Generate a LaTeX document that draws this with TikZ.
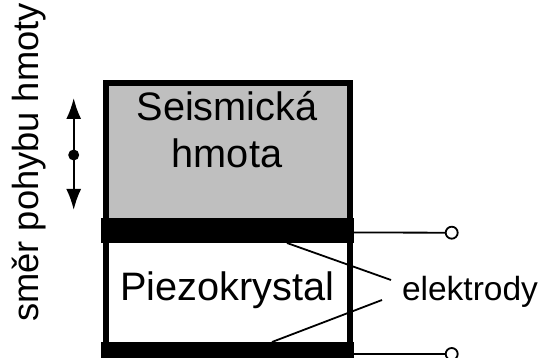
\documentclass[tikz,border=0pt]{standalone}
\usepackage{fontspec}
\usetikzlibrary{arrows.meta}
\setmainfont{Liberation Sans}
\tikzset{
  px/.style={x=1pt,y=-1pt},
  lbl/.style={inner sep=0pt,font=\fontsize{39.7}{47}\selectfont,align=center},
  wire/.style={draw=black,line width=1.8pt},
  term/.style={circle,draw=black,line width=1.8pt,fill=white,minimum size=12pt,inner sep=0pt},
  elec/.style={fill=black,draw=none,minimum width=253pt,minimum height=25pt,inner sep=0pt}
}
\begin{document}
\begin{tikzpicture}[px]
\useasboundingbox (0,0) rectangle (541,358);
\fill[white] (0,0) rectangle (541,358);
\fill[black!25] (106,83) rectangle (350,220);
\draw[line width=6pt] (106,358) -- (106,83) -- (350,83) -- (350,358);
\node[elec] (top) at (227.5,230.5) {};
\node[elec,minimum height=16pt] (bot) at (227.5,350) {};
\coordinate (w1) at (354,232.5);
\coordinate (w2) at (354,354);
\node[term] (t1) at (451.7,232.7) {};
\node[term] (t2) at (451.7,354) {};
\draw[wire] (w1) -- (t1);
\draw[wire] (w2) -- (t2);
\node[lbl] (s) at (227,130) {Seismická\\hmota};
\node[lbl,anchor=base] (p) at (227.5,300.5) {Piezokrystal};
\node[inner sep=0pt,anchor=base,font=\fontsize{33.5}{38}\selectfont] (e) at (470,301) {elektrody};
\coordinate (a) at (391,280);
\coordinate (a0) at (287,243);
\coordinate (b) at (382,300);
\coordinate (b0) at (272,342);
\draw[wire] (a0) -- (a);
\draw[wire] (b0) -- (b);
\node[inner sep=0pt,rotate=90,anchor=base,font=\fontsize{36.3}{40}\selectfont] (m) at (38.5,162.5) {směr pohybu hmoty};
\coordinate (c) at (73.7,155);
\coordinate (u) at (73.7,98);
\coordinate (d) at (73.7,210);
\draw[line width=2pt,-{Latex[length=21pt,width=15pt]}] (c) -- (u);
\draw[line width=2pt,-{Latex[length=21pt,width=15pt]}] (c) -- (d);
\fill (c) circle (5.5pt);
\end{tikzpicture}
\end{document}
